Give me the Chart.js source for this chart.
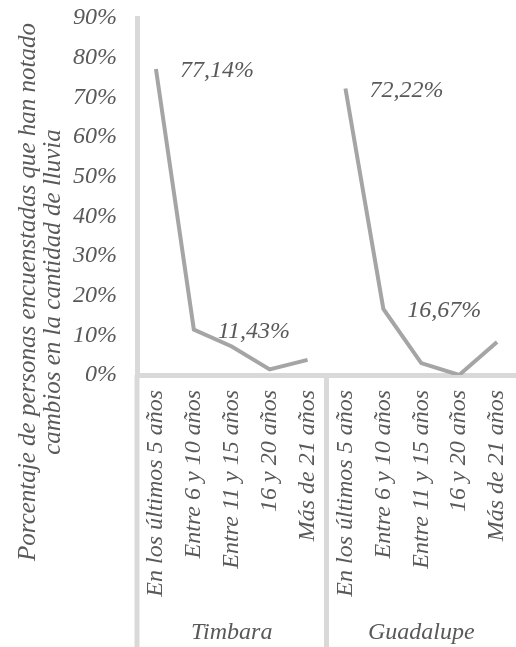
<!DOCTYPE html>
<html lang="es">
<head>
<meta charset="UTF-8">
<title>Cambios en la cantidad de lluvia</title>
<script src="https://cdn.jsdelivr.net/npm/chart.js"></script>
<style>
    body {
        margin: 0;
        background: #fff;
    }
    #grafico {
        display: block;
    }
</style>
</head>
<body>
<canvas id="grafico" width="516" height="647"></canvas>
<script>
    // datos por localidad (porcentaje de encuestados)
    const periodos = ['En los últimos 5 años', 'Entre 6 y 10 años', 'Entre 11 y 15 años', '16 y 20 años', 'Más de 21 años'];
    const localidades = ['Timbara', 'Guadalupe'];
    const timbara = [77.14, 11.43, 7.2, 1.4, 3.8];
    const guadalupe = [72.22, 16.67, 3.0, 0, 8.3];
    // puntos que llevan etiqueta de valor dentro de cada localidad
    const puntosEtiquetados = [0, 1];
    const tituloEjeY = ['Porcentaje de personas encuenstadas que han notado', 'cambios en la cantidad de lluvia'];

    const FAMILIA = '"Liberation Serif", "Times New Roman", serif';
    const FUENTE = 'italic 24px ' + FAMILIA;
    const GRIS_TEXTO = '#595959';
    const GRIS_LINEA = '#a5a5a5';
    const GRIS_EJE = '#d9d9d9';

    const vacios = periodos.map(() => null);
    const etiquetas = [...periodos, ...periodos];

    const formato = v => v.toFixed(2).replace('.', ',') + '%';

    // etiquetas de valor, título del eje y y cajas de las localidades
    const decoracion = {
        id: 'decoracion',
        afterDatasetsDraw(chart) {
            const ctx = chart.ctx;
            ctx.save();
            ctx.font = FUENTE;
            ctx.fillStyle = GRIS_TEXTO;
            ctx.textAlign = 'left';
            ctx.textBaseline = 'middle';
            chart.data.datasets.forEach((ds, i) => {
                const meta = chart.getDatasetMeta(i);
                const inicio = i * periodos.length;
                puntosEtiquetados.forEach(k => {
                    const p = meta.data[inicio + k];
                    ctx.fillText(formato(ds.data[inicio + k]), p.x + 24, p.y + 2);
                });
            });
            ctx.restore();
        },
        afterDraw(chart) {
            const ctx = chart.ctx;
            const area = chart.chartArea;
            const x = chart.scales.x;
            const alto = chart.height;
            ctx.save();

            // líneas que separan las localidades
            const separador = (x.getPixelForValue(periodos.length - 1) + x.getPixelForValue(periodos.length)) / 2;
            ctx.strokeStyle = GRIS_EJE;
            ctx.lineWidth = 5;
            ctx.beginPath();
            ctx.moveTo(area.left, area.bottom);
            ctx.lineTo(area.left, alto);
            ctx.moveTo(separador, area.bottom);
            ctx.lineTo(separador, alto);
            ctx.stroke();

            // nombre de cada localidad
            ctx.font = FUENTE;
            ctx.fillStyle = GRIS_TEXTO;
            ctx.textAlign = 'center';
            ctx.textBaseline = 'middle';
            const bordes = [area.left, separador, area.right];
            localidades.forEach((nombre, i) => {
                ctx.fillText(nombre, (bordes[i] + bordes[i + 1]) / 2, alto - 14);
            });

            // título del eje y en dos líneas
            ctx.font = 'italic 25px ' + FAMILIA;
            ctx.translate(0, 292);
            ctx.rotate(-Math.PI / 2);
            tituloEjeY.forEach((linea, i) => {
                ctx.fillText(linea, 0, 28 + i * 25);
            });
            ctx.restore();
        }
    };

    new Chart(document.getElementById('grafico'), {
        type: 'line',
        data: {
            labels: etiquetas,
            datasets: [
                { label: localidades[0], data: [...timbara, ...vacios] },
                { label: localidades[1], data: [...vacios, ...guadalupe] }
            ]
        },
        options: {
            responsive: false,
            animation: false,
            devicePixelRatio: 1,
            layout: { padding: { top: 18, right: 0, bottom: 0, left: 0 } },
            elements: {
                line: { borderColor: GRIS_LINEA, borderWidth: 4, tension: 0, borderJoinStyle: 'miter' },
                point: { radius: 0, hoverRadius: 0 }
            },
            spanGaps: false,
            plugins: {
                legend: { display: false },
                tooltip: { enabled: false }
            },
            scales: {
                x: {
                    offset: true,
                    grid: { display: false, drawTicks: false, offset: true },
                    border: { display: true, color: GRIS_EJE, width: 5 },
                    ticks: {
                        autoSkip: false,
                        minRotation: 90,
                        maxRotation: 90,
                        padding: 15,
                        color: GRIS_TEXTO,
                        font: { family: FAMILIA, size: 24, style: 'italic' }
                    },
                    afterFit(scale) {
                        scale.height = 272;
                        scale.paddingLeft = 0;
                        scale.paddingRight = 0;
                    }
                },
                y: {
                    min: 0,
                    max: 90,
                    grid: { display: false, drawTicks: false },
                    border: { display: true, color: GRIS_EJE, width: 5 },
                    ticks: {
                        stepSize: 10,
                        padding: 20,
                        color: GRIS_TEXTO,
                        font: { family: FAMILIA, size: 24, style: 'italic' },
                        callback: v => v + '%'
                    },
                    afterFit(scale) {
                        scale.width = 137;
                        scale.paddingTop = 0;
                        scale.paddingBottom = 0;
                    }
                }
            }
        },
        plugins: [decoracion]
    });
</script>
</body>
</html>
